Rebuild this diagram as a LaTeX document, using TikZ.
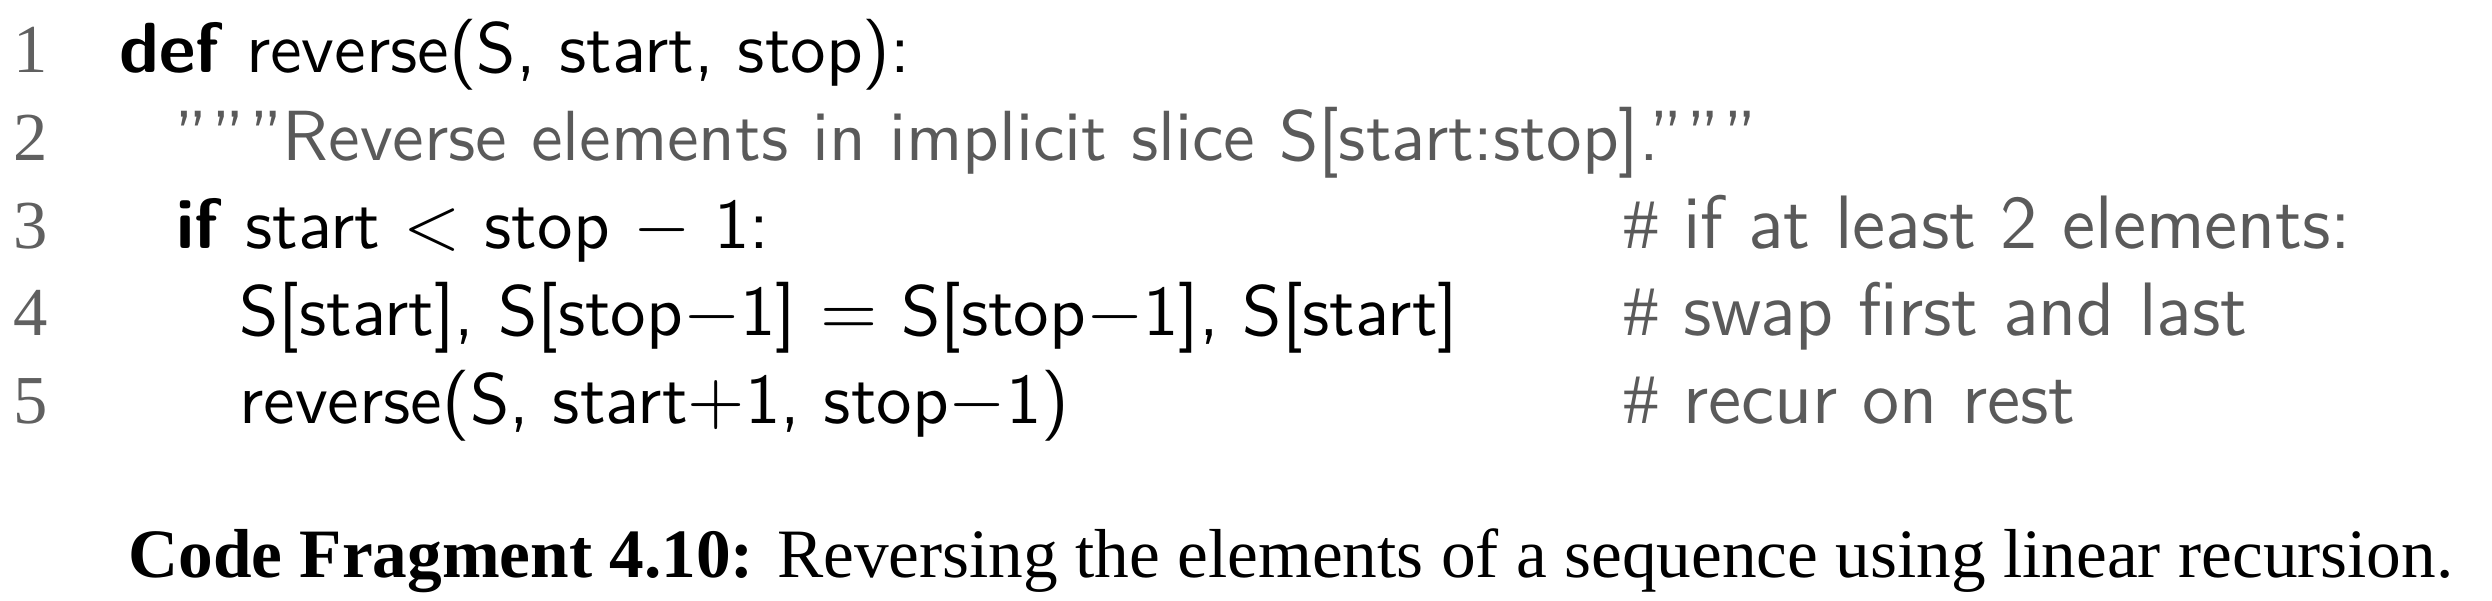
\documentclass[tikz,border=0pt]{standalone}
\usepackage{fontspec}
\setmainfont{Liberation Serif}
\definecolor{cgray}{HTML}{5A5A5A}
\definecolor{ngray}{HTML}{606060}
\begin{document}
\begin{tikzpicture}[x=0.1486pt,y=-0.1486pt,
  code/.style={anchor=base west,inner sep=0pt,font=\fontsize{10.55}{12}\sffamily},
  cmt/.style={anchor=base west,inner sep=0pt,text=cgray,font=\fontsize{11.25}{13}\sffamily},
  doc/.style={code,text=cgray},
  num/.style={anchor=base east,inner sep=0pt,font=\fontsize{10.2}{12}\selectfont,text=ngray},
  capt/.style={anchor=base west,inner sep=0pt,font=\fontsize{10.3}{12}\selectfont}]
\useasboundingbox (0,0) rectangle (2492,600);
\node[num] (n1) at (49,72) {1};
\node[num] (n2) at (49,160) {2};
\node[num] (n3) at (49,248) {3};
\node[num] (n4) at (49,335) {4};
\node[num] (n5) at (49,423) {5};
\node[code] (l1) at (118,72) {\textbf{def} reverse(S, start, stop):};
\node[doc] (l2) at (173,160) {''''''Reverse elements in implicit slice S[start:stop].''''''};
\node[code] (l3) at (175,248) {\textbf{if} start $<$ stop $-$ 1:};
\node[code] (l4) at (238,335) {S[start], S[stop$-$1] $=$ S[stop$-$1], S[start]};
\node[code] (l5) at (238,423) {reverse(S, start$+$1, stop$-$1)};
\node[cmt] (c3) at (1622,248) {{\fontsize{10.55}{12}\selectfont$\#$} if at least 2 elements:};
\node[cmt] (c4) at (1622,335) {{\fontsize{10.55}{12}\selectfont$\#$} swap first and last};
\node[cmt] (c5) at (1622,423) {{\fontsize{10.55}{12}\selectfont$\#$} recur on rest};
\node[capt] (cap) at (127,577) {\textbf{Code Fragment 4.10:} Reversing the elements of a sequence using linear recursion.};
\end{tikzpicture}
\end{document}
